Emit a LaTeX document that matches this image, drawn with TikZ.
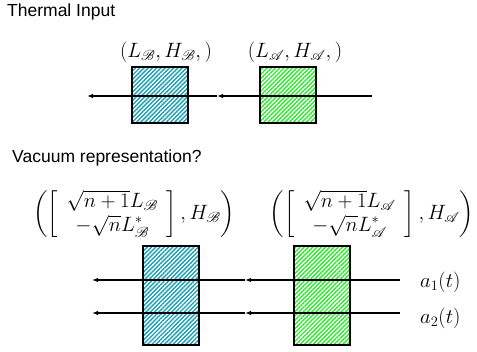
\documentclass[tikz,border=0pt]{standalone}
\usepackage{amsmath,amssymb,mathrsfs}
\usepackage{fontspec}
\setmainfont{Liberation Sans}
\usetikzlibrary{arrows.meta, positioning, patterns.meta}
\definecolor{cTeal}{HTML}{1A9FB2}
\definecolor{cLime}{HTML}{2EEA2E}
\tikzset{
  hatchbox/.style={
    rectangle, draw=black, line width=1.2pt, inner sep=0pt,
    minimum width=56pt, minimum height=#1, fill=white,
    pattern={Lines[angle=45, distance=3pt, line width=1.4pt]}
  },
  bbox/.style={hatchbox=#1, pattern color=cTeal},
  abox/.style={hatchbox=#1, pattern color=cLime},
  wire/.style={-{Latex[length=6pt, width=4.5pt]}, line width=1.3pt},
  title/.style={anchor=west, font=\fontsize{17.5}{20}\selectfont, inner sep=0pt},
  mlabel/.style={font=\fontsize{19.5}{23}\selectfont, inner sep=0pt},
}
\begin{document}
\begin{tikzpicture}[x=1pt, y=-1pt]
  \useasboundingbox (0,0) rectangle (477,352);

  % Thermal input
  \node[title] (tThermal) at (7,12) {Thermal Input};
  \node[bbox=56pt] (boxB) at (160,95) {};
  \node[abox=56pt] (boxA) at (288,95) {};
  \node[mlabel] (labB) at (166,52) {$(L_{\mathscr{B}}, H_{\mathscr{B}},)$};
  \node[mlabel] (labA) at (295,52) {$(L_{\mathscr{A}}, H_{\mathscr{A}},)$};
  \coordinate (inT) at (372,96);
  \coordinate (midT) at (217,96);
  \coordinate (outT) at (87,96);
  \draw[wire] (inT) -- (midT);
  \draw[wire] (midT) -- (outT);

  % Vacuum representation
  \node[title] (tVacuum) at (12,158) {Vacuum representation?};
  \node[bbox=99pt] (vboxB) at (171,295.5) {};
  \node[abox=99pt] (vboxA) at (322,295.5) {};
  \node[mlabel] (vlabB) at (134,214) {$\left(\left[\arraycolsep=9pt\begin{array}{c}
      \sqrt{n+1}L_{\mathscr{B}}\\ -\sqrt{n}L_{\mathscr{B}}^{*}
    \end{array}\right], H_{\mathscr{B}}\right)$};
  \node[mlabel] (vlabA) at (372,214) {$\left(\left[\arraycolsep=9pt\begin{array}{c}
      \sqrt{n+1}L_{\mathscr{A}}\\ -\sqrt{n}L_{\mathscr{A}}^{*}
    \end{array}\right], H_{\mathscr{A}}\right)$};

  % Two input modes
  \foreach \i/\y in {1/280, 2/313} {
    \coordinate (in\i) at (400,\y);
    \coordinate (mid\i) at (245,\y);
    \coordinate (out\i) at (92,\y);
    \draw[wire] (in\i) -- (mid\i);
    \draw[wire] (mid\i) -- (out\i);
  }
  \node[mlabel, right=20pt of in1, yshift=-2pt] (mode1) {$a_1(t)$};
  \node[mlabel, right=20pt of in2, yshift=-5pt] (mode2) {$a_2(t)$};
\end{tikzpicture}
\end{document}
